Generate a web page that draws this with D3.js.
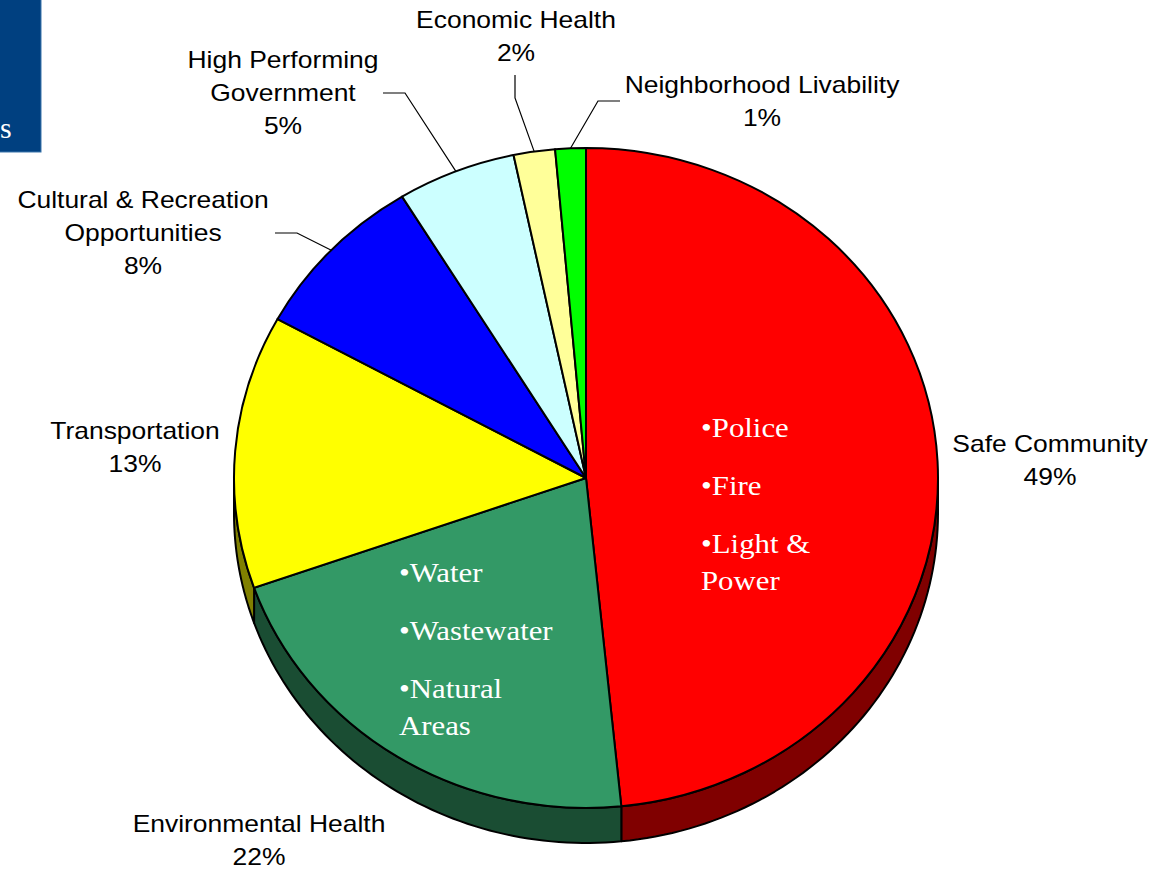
<!DOCTYPE html>
<html>
<head>
<meta charset="utf-8">
<script src="https://cdn.jsdelivr.net/npm/d3@7"></script>
<style>
  html, body { margin: 0; padding: 0; background: #ffffff; }
  svg { display: block; }
</style>
</head>
<body>
<svg id="chart" width="1156" height="871"></svg>
<script>
// ---------- data ----------
const categories = ["Safe Community", "Environmental Health", "Transportation",
  "Cultural & Recreation Opportunities", "High Performing Government",
  "Economic Health", "Neighborhood Livability"];
const values = [48.4, 21.2, 13.4, 8.25, 5.45, 1.9, 1.4];
const percentLabels = ["49%", "22%", "13%", "8%", "5%", "2%", "1%"];
const labelLines = [["Safe Community"], ["Environmental Health"], ["Transportation"],
  ["Cultural & Recreation", "Opportunities"], ["High Performing", "Government"],
  ["Economic Health"], ["Neighborhood Livability"]];
const topColors = ["#ff0000", "#339966", "#ffff00", "#0000ff", "#ccffff", "#ffff99", "#00ff00"];
const sideColors = ["#800000", "#1a4d33", "#808000", "#000080", "#668080", "#80804d", "#008000"];
const safeNotes = [["•Police"], ["•Fire"], ["•Light &", "Power"]];
const envNotes = [["•Water"], ["•Wastewater"], ["•Natural", "Areas"]];

// ---------- layout ----------
const W = 1156, H = 871;
const cx = 586, cy = 478, rx = 352, ry = 330, depth = 35;
const labelFont = "'Liberation Sans', Arial, sans-serif";
const labelSize = 23, labelLead = 33, labelStretch = 1.15;
// label anchor (center x, first baseline) and leader elbow, per category
const labelLayout = [
  { x: 1050, y: 452 },
  { x: 259, y: 832 },
  { x: 135, y: 439 },
  { x: 143, y: 208, elbow: [[275, 233], [297, 233]] },
  { x: 283, y: 68, elbow: [[383, 93], [405, 93]] },
  { x: 516, y: 28, elbow: [[515, 75], [515, 98]] },
  { x: 762, y: 93, elbow: [[620, 101], [598, 101]] }
];

const svg = d3.select("#chart");

// corner banner of the slide
svg.append("rect").attr("x", -1).attr("y", -1).attr("width", 42).attr("height", 153)
  .attr("fill", "#004080").attr("stroke", "#3a74ab").attr("stroke-width", 1);
svg.append("text").attr("x", 0).attr("y", 138).attr("fill", "#ffffff")
  .attr("font-family", "'Liberation Serif', 'Times New Roman', serif").attr("font-size", 30).text("s");

const pie = d3.pie().sort(null).value(d => d)(values);

const ex = a => cx + rx * Math.sin(a);
const ey = a => cy - ry * Math.cos(a);

// ---------- side walls (front half only) ----------
const sideG = svg.append("g");
pie.forEach((p, i) => {
  const a0 = Math.max(p.startAngle, Math.PI / 2);
  const a1 = Math.min(p.endAngle, 3 * Math.PI / 2);
  if (a1 <= a0) return;
  const n = 60;
  const angs = d3.range(n + 1).map(k => a0 + (a1 - a0) * k / n);
  const top = angs.map(a => [ex(a), ey(a)]);
  const bot = angs.slice().reverse().map(a => [ex(a), ey(a) + depth]);
  sideG.append("path")
    .attr("d", d3.line()(top.concat(bot)) + "Z")
    .attr("fill", sideColors[i])
    .attr("stroke", "#000").attr("stroke-width", 2).attr("stroke-linejoin", "round");
});

// ---------- top face ----------
const arc = d3.arc().innerRadius(0).outerRadius(rx);
const topG = svg.append("g").attr("transform", `translate(${cx},${cy}) scale(1,${ry / rx})`);
topG.selectAll("path").data(pie).join("path")
  .attr("d", arc)
  .attr("fill", (d, i) => topColors[i])
  .attr("stroke", "#000").attr("stroke-width", 2).attr("stroke-linejoin", "round")
  .attr("vector-effect", "non-scaling-stroke");

// ---------- labels & leaders ----------
const labG = svg.append("g").attr("font-family", labelFont).attr("font-size", labelSize)
  .attr("fill", "#000").attr("text-anchor", "middle");
pie.forEach((p, i) => {
  const L = labelLayout[i];
  const lines = labelLines[i].concat([percentLabels[i]]);
  lines.forEach((t, k) => {
    labG.append("text")
      .attr("transform", `translate(${L.x},${L.y + k * labelLead}) scale(${labelStretch},1)`)
      .text(t);
  });
  if (L.elbow) {
    const mid = (p.startAngle + p.endAngle) / 2;
    const pts = L.elbow.concat([[ex(mid), ey(mid)]]);
    svg.append("path").attr("d", d3.line()(pts)).attr("fill", "none")
      .attr("stroke", "#000").attr("stroke-width", 1.2);
  }
});

// ---------- notes inside slices ----------
function notes(list, x, y) {
  const g = svg.append("g").attr("font-family", "'Liberation Serif', 'Times New Roman', serif")
    .attr("font-size", 28).attr("fill", "#ffffff");
  let yy = y;
  list.forEach(item => {
    item.forEach((t, k) => {
      g.append("text").attr("transform", `translate(${x},${yy}) scale(1.1,1)`).text(t);
      yy += (k < item.length - 1) ? 37 : 58;
    });
  });
}
notes(safeNotes, 701, 437);
notes(envNotes, 399, 582);
</script>
</body>
</html>
